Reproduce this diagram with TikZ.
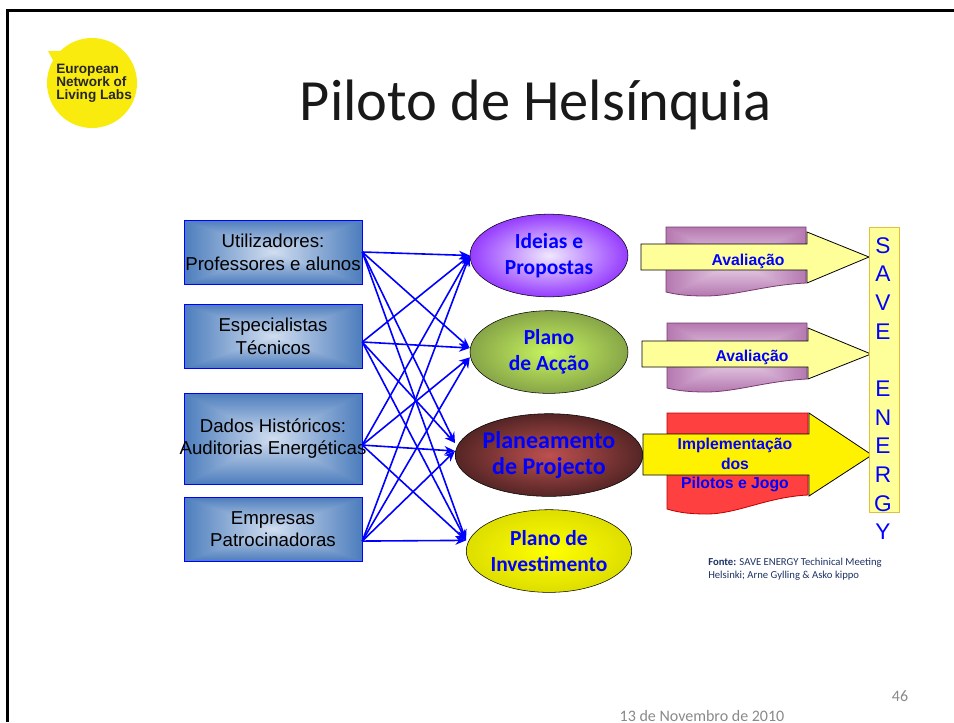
\documentclass[tikz,border=0pt]{standalone}
\usepackage{fontspec}
\setmainfont{Liberation Sans}
\newfontfamily\calibri{Carlito}
\usetikzlibrary{shapes.geometric,arrows.meta}
\definecolor{linkblue}{RGB}{0,0,255}
\definecolor{plumedge}{RGB}{120,60,110}
\definecolor{paleyellow}{RGB}{255,255,153}
\definecolor{footgray}{RGB}{137,137,137}
\definecolor{logoyellow}{RGB}{250,235,15}
\definecolor{sourcenavy}{RGB}{30,50,100}
\definecolor{ideasin}{RGB}{240,232,255}
\definecolor{ideasout}{RGB}{150,60,255}
\definecolor{actionin}{RGB}{200,245,95}
\definecolor{actionout}{RGB}{135,165,72}
\definecolor{projectin}{RGB}{190,80,80}
\definecolor{projectout}{RGB}{85,37,37}
\definecolor{investin}{RGB}{255,255,0}
\definecolor{investout}{RGB}{222,222,0}
\pgfdeclarefunctionalshading{boxglow}{\pgfpoint{-50bp}{-50bp}}{\pgfpoint{50bp}{50bp}}{}{
  abs exch abs 2 copy lt {exch} if pop 25 div dup 1 gt {pop 1} if
  dup dup -0.52 mul 0.82 add 3 1 roll -0.38 mul 0.87 add exch -0.2 mul 0.94 add}
\pgfdeclarefunctionalshading{plumglow}{\pgfpoint{-50bp}{-50bp}}{\pgfpoint{50bp}{50bp}}{}{
  abs exch abs 2 copy lt {exch} if pop 25 div dup 1 gt {pop 1} if
  dup dup -0.22 mul 0.93 add 3 1 roll -0.38 mul 0.85 add exch -0.24 mul 0.93 add}
\tikzstyle{sourcebox}=[draw=linkblue,%
                          rectangle,%
                          shading=boxglow,%
                          align=center,%
                          inner sep=0pt,%
                          font=\fontsize{14}{17}\selectfont,%
                          minimum width=133.5pt,%
                          minimum height=48pt]
\tikzstyle{phase}=[draw=black,ellipse,inner sep=0pt,minimum width=118.5pt,minimum height=62pt,align=center,text=linkblue,%
                          font=\calibri\bfseries\fontsize{16.1}{19.5}\selectfont]
\tikzstyle{link}=[-{Stealth[length=8pt,width=6.5pt]},draw=linkblue,line width=1.2pt]
\tikzstyle{document}=[draw=plumedge,line width=0.6pt,shading=plumglow]
\tikzstyle{blockarrow}=[draw=black,line width=0.6pt,fill=paleyellow]
\tikzstyle{arrowtext}=[text=linkblue,align=center,font=\bfseries\fontsize{11.8}{14.3}\selectfont]
\tikzstyle{footer}=[text=footgray,font=\calibri\fontsize{12}{14}\selectfont]
\begin{document}
\begin{tikzpicture}[x=0.75pt,y=-0.75pt]
  \useasboundingbox (0,0) rectangle (954,722);
  \draw [black,line width=2pt] (7.5,722) -- (7.5,10.5) -- (954,10.5);
  % logo
  \fill [logoyellow] (92,83) circle (45) (48,51) -- (63,51) -- (55,64) -- cycle;
  \node [anchor=west,align=left,text=black!85,font=\bfseries\fontsize{10.2}{9.8}\selectfont,inner sep=0pt] (logo) at (56,83) {European\\Network of\\Living Labs};
  \node [font=\calibri\fontsize{43.8}{50}\selectfont,text=black!90] (title) at (536,105) {Piloto de Helsínquia};
  % sources
  \node[sourcebox] (users) at (273,252) {Utilizadores:\\Professores e alunos};
  \node[sourcebox][below of=users,node distance=63pt] (experts) {Especialistas\\Técnicos};
  \node[sourcebox][below of=experts,node distance=76.9pt,minimum height=68.25pt] (data) {Dados Históricos:\\\makebox[120pt][c]{Auditorias Energéticas}};
  \node[sourcebox][below of=data,node distance=67.9pt] (sponsors) {Empresas\\Patrocinadoras};
  % phases
  \node[phase,shading=radial,inner color=ideasin,outer color=ideasout] (ideas) at (549,255.5) {Ideias e\\Propostas};
  \node[phase,shading=radial,inner color=actionin,outer color=actionout][below of=ideas,node distance=72.4pt] (action) {Plano\\de Acção};
  \node[phase,shading=radial,inner color=projectin,outer color=projectout,font=\calibri\bfseries\fontsize{18}{19.5}\selectfont][below of=action,node distance=77.25pt] (project) {Planeamento\\de Projecto};
  \node[phase,shading=radial,inner color=investin,outer color=investout][below of=project,node distance=72pt] (invest) {Plano de\\Investimento};
  % link ends
  \coordinate (expertsout) at ([yshift=-4.5pt]experts.east);
  \coordinate (dataout) at ([yshift=-4.9pt]data.east);
  \coordinate (sponsorsout) at ([yshift=-9pt]sponsors.east);
  \coordinate (actionup) at ([yshift=3pt]action.west);
  \coordinate (actiondown) at ([yshift=-4pt]action.west);
  \coordinate (projectup) at ([yshift=9pt]project.west);
  \coordinate (projectdown) at ([yshift=3pt]project.west);
  \coordinate (investend) at ([yshift=8pt]invest.west);
  \draw [link] (users.east) -- (ideas.west);
  \draw [link] (users.east) -- (actionup);
  \draw [link] (users.east) -- (projectup);
  \draw [link] (users.east) -- (investend);
  \draw [link] (expertsout) -- (ideas.west);
  \draw [link] (expertsout) -- (actionup);
  \draw [link] (expertsout) -- (projectup);
  \draw [link] (expertsout) -- (investend);
  \draw [link] (dataout) -- (ideas.west);
  \draw [link] (dataout) -- (actiondown);
  \draw [link] (dataout) -- (projectdown);
  \draw [link] (dataout) -- (investend);
  \draw [link] (sponsorsout) -- (ideas.west);
  \draw [link] (sponsorsout) -- (actiondown);
  \draw [link] (sponsorsout) -- (projectdown);
  \draw [link] (sponsorsout) -- (investend);
  % documents behind the block arrows
  \draw [document] (666,227) -- (806,227) -- (806,283) .. controls (765,285) and (735,296) .. (705,296) .. controls (690,296) and (678,295) .. (666,292) -- cycle;
  \draw [document] (667,323) -- (807,323) -- (807,379) .. controls (766,381) and (736,392) .. (706,392) .. controls (691,392) and (679,391) .. (667,388) -- cycle;
  \draw [draw=red!75!black,line width=0.6pt,fill=red!75!white] (667,413) -- (808,413) -- (808,495) .. controls (767,497) and (737,514) .. (707,514) .. controls (692,514) and (680,513) .. (667,509) -- cycle;
  % block arrows
  \draw [blockarrow] (641,244) -- (807,244) -- (807,232) -- (869,257) -- (807,283) -- (807,270) -- (641,270) -- cycle;
  \draw [blockarrow] (642,341) -- (808,341) -- (808,328) -- (871,354) -- (808,379) -- (808,367) -- (642,367) -- cycle;
  \draw [blockarrow,fill=yellow] (643,434) -- (809,434) -- (809,413) -- (872,455) -- (809,496) -- (809,475) -- (643,475) -- cycle;
  \node[arrowtext] (evalone) at (748,261) {Avaliação};
  \node[arrowtext] (evaltwo) at (752,357) {Avaliação};
  \node[arrowtext] (pilots) at (735,465) {Implementação\\dos\\Pilotos e Jogo};
  % save energy
  \node [draw=yellow!50!brown,fill=paleyellow,minimum width=22.5pt,minimum height=213.75pt,inner sep=0pt] (band) at (884,369.5) {};
  \node [text=linkblue,align=center,inner sep=0pt,font=\fontsize{17}{21.5}\selectfont,anchor=north] (save) at (883,237) {S\\A\\V\\E\\\mbox{}\\E\\N\\E\\R\\G\\Y};
  % source and footer
  \node [anchor=north west,align=left,inner sep=0pt,text=sourcenavy,font=\calibri\fontsize{8}{9.75}\selectfont] (fonte) at (708,558) {\textbf{Fonte:} SAVE ENERGY Techinical Meeting\\Helsinki; Arne Gylling \& Asko kippo};
  \node [footer] (page) at (900,696) {46};
  \node [footer] (date) at (702,716) {13 de Novembro de 2010};
\end{tikzpicture}
\end{document}
